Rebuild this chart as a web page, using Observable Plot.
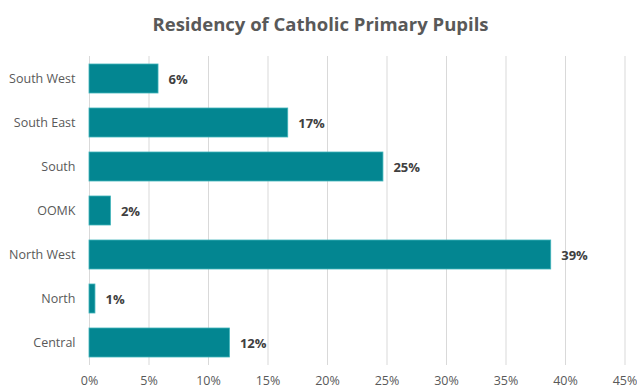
<!DOCTYPE html>
<html>
<head>
<meta charset="utf-8">
<script src="https://cdn.jsdelivr.net/npm/d3@7"></script>
<script src="https://cdn.jsdelivr.net/npm/@observablehq/plot@0.6"></script>
<style>
  html, body { margin: 0; padding: 0; background: #fff; }
  #title { height: 45px; line-height: 48px; text-align: center; font-family: "Open Sans", sans-serif; font-weight: 700; font-size: 18.5px; color: #595959; padding-left: 4px; }
</style>
</head>
<body>
<div id="title">Residency of Catholic Primary Pupils</div>
<div id="chart"></div>
<script>
const regions = ["South West", "South East", "South", "OOMK", "North West", "North", "Central"];
const shares = [0.058, 0.167, 0.247, 0.018, 0.388, 0.005, 0.118];
const labels = ["6%", "17%", "25%", "2%", "39%", "1%", "12%"];
const xTicks = [0, 0.05, 0.10, 0.15, 0.20, 0.25, 0.30, 0.35, 0.40, 0.45];

const data = regions.map((r, i) => ({region: r, share: shares[i], label: labels[i]}));

const chart = Plot.plot({
  width: 637,
  height: 343,
  marginTop: 11,
  marginBottom: 23,
  marginLeft: 89,
  marginRight: 12.5,
  style: {fontFamily: "Open Sans, sans-serif", fontSize: "12px", color: "#595959", background: "#fff"},
  x: {domain: [0, 0.45], ticks: xTicks, tickFormat: d => Math.round(d * 100) + "%", label: null},
  y: {domain: regions, paddingInner: 0.33, paddingOuter: 0.165, label: null},
  marks: [
    Plot.gridX(xTicks, {stroke: "#d9d9d9", strokeOpacity: 1, strokeWidth: 1}),
    Plot.axisX(xTicks, {tickSize: 0, tickPadding: 11, tickFormat: d => Math.round(d * 100) + "%", fill: "#595959", fontSize: 12.5, label: null}),
    Plot.axisY({tickSize: 0, tickPadding: 14, fill: "#595959", fontSize: 12.5, label: null}),
    Plot.barX(data, {x: "share", y: "region", fill: "#038691", stroke: "#3fb3ba", strokeWidth: 0.8}),
    Plot.text(data, {x: "share", y: "region", text: "label", textAnchor: "start", dx: 10, dy: 1, fontWeight: "bold", fontSize: 13, fill: "#404040"})
  ]
});
document.getElementById("chart").appendChild(chart);
</script>
</body>
</html>
